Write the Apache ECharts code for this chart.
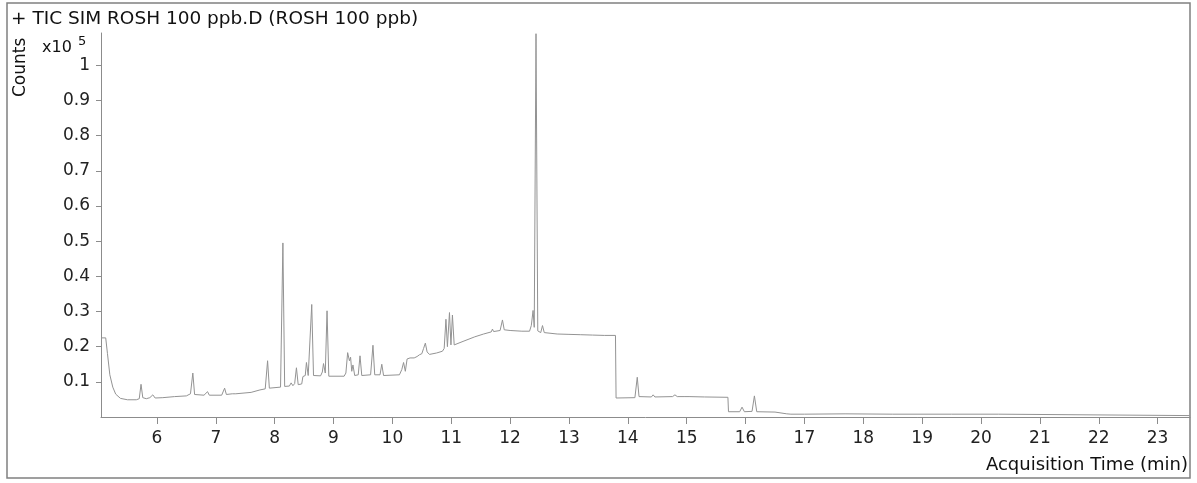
<!DOCTYPE html>
<html>
<head>
<meta charset="utf-8">
<title>TIC SIM ROSH 100 ppb</title>
<script src="https://cdn.jsdelivr.net/npm/echarts@6/dist/echarts.min.js"></script>
<style>
  html, body { margin: 0; padding: 0; background: #fff; }
  #chart { width: 1197px; height: 483px; }
</style>
</head>
<body>
<div id="chart"></div>
<script>
// acquisition time (min)
const times = [
  5.05, 5.13, 5.16, 5.20, 5.25, 5.30, 5.38, 5.50, 5.65, 5.70, 5.73, 5.76, 5.82, 5.88, 5.93, 5.97,
  6.10, 6.30, 6.50, 6.57, 6.61, 6.64, 6.80, 6.86, 6.89, 7.10, 7.15, 7.18, 7.28, 7.31, 7.34, 7.60,
  7.75, 7.84, 7.88, 7.91, 8.10, 8.14, 8.17, 8.25, 8.28, 8.31, 8.34, 8.37, 8.40, 8.46, 8.48, 8.52,
  8.54, 8.57, 8.60, 8.63, 8.66, 8.78, 8.81, 8.83, 8.86, 8.89, 8.92, 9.18, 9.21, 9.24, 9.27, 9.29,
  9.31, 9.33, 9.36, 9.42, 9.45, 9.48, 9.63, 9.67, 9.70, 9.79, 9.82, 9.85, 10.12, 10.16, 10.19, 10.22,
  10.25, 10.30, 10.33, 10.37, 10.42, 10.46, 10.50, 10.53, 10.56, 10.59, 10.63, 10.75, 10.85, 10.88, 10.91, 10.935,
  10.97, 10.995, 11.02, 11.05, 11.20, 11.40, 11.55, 11.68, 11.70, 11.72, 11.83, 11.87, 11.90, 12.00, 12.20, 12.33,
  12.36, 12.39, 12.41, 12.44, 12.47, 12.52, 12.55, 12.58, 12.80, 13.00, 13.20, 13.40, 13.60, 13.79, 13.80, 14.12,
  14.16, 14.19, 14.40, 14.43, 14.46, 14.76, 14.80, 14.84, 14.97, 15.00, 15.04, 15.30, 15.70, 15.71, 15.90, 15.94,
  15.98, 16.11, 16.15, 16.19, 16.50, 16.52, 16.70, 16.73, 16.77, 17.00, 17.69, 17.72, 18.50, 19.50, 20.30, 20.32,
  23.55
];
// counts (x10^5)
const counts = [
  0.225, 0.225, 0.180, 0.120, 0.085, 0.065, 0.053, 0.049, 0.049, 0.052, 0.093, 0.055, 0.052, 0.055, 0.063, 0.054,
  0.055, 0.058, 0.060, 0.066, 0.125, 0.064, 0.062, 0.072, 0.062, 0.062, 0.082, 0.064, 0.066, 0.070, 0.066, 0.070,
  0.077, 0.080, 0.160, 0.082, 0.085, 0.495, 0.087, 0.088, 0.097, 0.089, 0.095, 0.140, 0.092, 0.094, 0.115, 0.118,
  0.155, 0.118, 0.120, 0.320, 0.118, 0.117, 0.128, 0.152, 0.125, 0.302, 0.116, 0.116, 0.125, 0.183, 0.160, 0.170,
  0.130, 0.148, 0.118, 0.120, 0.174, 0.118, 0.120, 0.204, 0.120, 0.120, 0.150, 0.118, 0.120, 0.135, 0.155, 0.130,
  0.165, 0.168, 0.172, 0.168, 0.172, 0.177, 0.180, 0.195, 0.210, 0.185, 0.178, 0.182, 0.187, 0.195, 0.278, 0.200,
  0.297, 0.205, 0.290, 0.205, 0.215, 0.228, 0.236, 0.242, 0.250, 0.243, 0.246, 0.276, 0.248, 0.246, 0.244, 0.244,
  0.260, 0.303, 0.255, 1.090, 0.245, 0.240, 0.260, 0.240, 0.236, 0.235, 0.234, 0.233, 0.232, 0.232, 0.054, 0.055,
  0.113, 0.058, 0.057, 0.063, 0.057, 0.058, 0.063, 0.058, 0.058, 0.062, 0.058, 0.057, 0.056, 0.015, 0.015, 0.028,
  0.015, 0.016, 0.060, 0.015, 0.014, 0.009, 0.009, 0.012, 0.008, 0.008, 0.009, 0.008, 0.008, 0.008, 0.008, 0.004,
  0.004
];
const xTicks = [6, 7, 8, 9, 10, 11, 12, 13, 14, 15, 16, 17, 18, 19, 20, 21, 22, 23];
const yTicks = [0.1, 0.2, 0.3, 0.4, 0.5, 0.6, 0.7, 0.8, 0.9, 1];

const titleText = '+ TIC SIM ROSH 100 ppb.D (ROSH 100 ppb)';
const axisColor = '#8c8c8c';
const font = 'DejaVu Sans, Arial, sans-serif';

const chart = echarts.init(document.getElementById('chart'));
const option = {
  animation: false,
  backgroundColor: '#fff',
  grid: { left: 101, right: 7, top: 33, bottom: 66 },
  xAxis: {
    type: 'value',
    min: 5.05,
    max: 23.55,
    axisLine: { show: true, lineStyle: { color: axisColor, width: 1 } },
    axisTick: { show: true, length: 7, lineStyle: { color: axisColor }, customValues: xTicks },
    axisLabel: {
      customValues: xTicks,
      color: '#222',
      fontSize: 17,
      fontFamily: font,
      margin: 13
    },
    splitLine: { show: false }
  },
  yAxis: {
    type: 'value',
    min: 0,
    max: 1.092,
    axisLine: { show: true, lineStyle: { color: axisColor, width: 1 } },
    axisTick: { show: true, length: 5, lineStyle: { color: axisColor }, customValues: yTicks },
    axisLabel: {
      customValues: yTicks,
      color: '#222',
      fontSize: 17,
      fontFamily: font,
      margin: 11,
      formatter: v => (v === 1 ? '1' : v.toFixed(1))
    },
    splitLine: { show: false }
  },
  series: [
    {
      type: 'line',
      data: times.map((t, i) => [t, counts[i]]),
      showSymbol: false,
      symbol: 'none',
      lineStyle: { color: '#939393', width: 1 },
      z: 3
    }
  ],
  graphic: [
    {
      type: 'rect',
      shape: { x: 7, y: 3, width: 1183, height: 475 },
      style: { fill: 'none', stroke: '#808080', lineWidth: 1.5 },
      silent: true
    },
    {
      type: 'text',
      left: 11,
      top: 10,
      style: { text: titleText, fontSize: 18.5, fontFamily: font, fill: '#111' }
    },
    {
      type: 'text',
      x: 12,
      y: 97,
      rotation: Math.PI / 2,
      style: { text: 'Counts', fontSize: 17, fontFamily: font, fill: '#111' }
    },
    {
      type: 'text',
      left: 42,
      top: 40,
      style: { text: 'x10', fontSize: 16, fontFamily: font, fill: '#111' }
    },
    {
      type: 'text',
      left: 78,
      top: 35,
      style: { text: '5', fontSize: 13, fontFamily: font, fill: '#111' }
    },
    {
      type: 'text',
      right: 9,
      top: 456,
      style: { text: 'Acquisition Time (min)', fontSize: 18, fontFamily: font, fill: '#111' }
    }
  ]
};
chart.setOption(option);
</script>
</body>
</html>
